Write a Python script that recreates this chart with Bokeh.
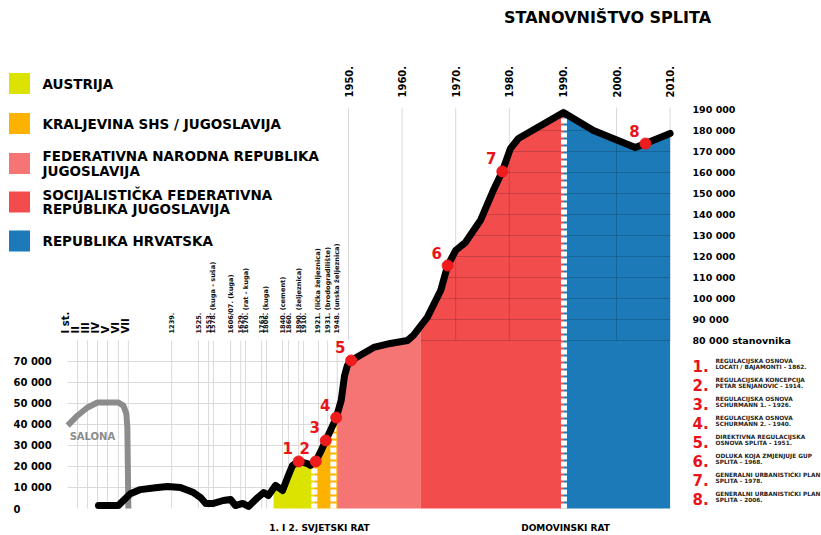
import numpy as np
from bokeh.plotting import figure
from bokeh.models import Range1d
from bokeh.core.properties import value
from bokeh.embed import file_html
from bokeh.resources import INLINE

# ---------------- data ----------------
TITLE = "STANOVNIŠTVO SPLITA"

# broken time axis (scale definition): anchor years -> axis units (years after 1950 on the right part)
AXIS_YEARS = [0, 700, 1239, 1525, 1553, 1578, 1606, 1629, 1670, 1763, 1806, 1840, 1860,
              1890, 1910, 1921, 1931, 1948, 1950, 2010]
AXIS_UNITS = [-53.7, -40.7, -33.0, -28.0, -26.1, -25.2, -22.0, -20.1, -19.2, -16.2, -15.3,
              -12.3, -11.2, -9.3, -8.4, -5.6, -3.9, -2.1, 0.0, 60.0]

# population of Split
CURVE_YEARS = [380, 580, 630, 700, 831, 1055, 1186, 1334, 1472, 1531, 1545, 1578, 1594, 1606,
               1617, 1645, 1687, 1740, 1780, 1810, 1825, 1840, 1857, 1872, 1890, 1913, 1915,
               1919, 1923, 1929, 1936, 1946.3, 1948.7, 1949.3, 1949.8, 1950.5, 1954.7, 1957.8,
               1961, 1962.1, 1964.7, 1967.2, 1968.5, 1970, 1971.8, 1974.6, 1977, 1978.7, 1980.2,
               1981.7, 1990.1, 1995.7, 2003.5, 2005.4, 2010]
CURVE_POP = [1400, 1400, 3800, 7000, 9000, 10000, 10500, 10000, 7600, 5200, 2400, 2400, 3800, 4300,
             1400, 2400, 1000, 5200, 7600, 6200, 11000, 8600, 14800, 20500, 22400, 21400, 20500,
             22400, 26700, 32400, 37100, 43300, 51400, 63300, 68100, 70500, 76700, 78600,
             80000, 82400, 91000, 103800, 115700, 122900, 126700, 137100, 151400, 160500, 171400,
             176200, 188600, 180000, 171900, 173800, 178600]

# Salona (ancient city)
SALONA_YEARS = [70, 170, 270, 370, 580, 630, 660, 670, 680]
SALONA_POP = [39500, 44300, 48100, 50500, 50500, 49000, 45200, 38600, 0]

# urban plans (numbered markers)
MARK_LABELS = ["1", "2", "3", "4", "5", "6", "7", "8"]
MARK_YEARS = [1890, 1919, 1929, 1946.3, 1950.5, 1968.5, 1978.7, 2005.4]
MARK_POP = [22400, 22400, 32400, 43300, 70500, 115700, 160500, 173800]
PLAN_LINE1 = ["REGULACIJSKA OSNOVA", "REGULACIJSKA KONCEPCIJA", "REGULACIJSKA OSNOVA",
              "REGULACIJSKA OSNOVA", "DIREKTIVNA REGULACIJSKA", "ODLUKA KOJA ZMJENJUJE GUP",
              "GENERALNI URBANISTIČKI PLAN", "GENERALNI URBANISTIČKI PLAN"]
PLAN_LINE2 = ["LOCATI / BAJAMONTI - 1862.", "PETAR SENJANOVIĆ - 1914.", "SCHURMANN 1. - 1926.",
              "SCHURMANN 2. - 1940.", "OSNOVA SPLITA  - 1951.", "SPLITA  - 1968.",
              "SPLITA  - 1978.", "SPLITA  - 2006."]

# states
ERA_NAMES = [["AUSTRIJA"], ["KRALJEVINA SHS / JUGOSLAVIJA"],
             ["FEDERATIVNA NARODNA REPUBLIKA", "JUGOSLAVIJA"],
             ["SOCIJALISTIČKA FEDERATIVNA", "REPUBLIKA JUGOSLAVIJA"], ["REPUBLIKA HRVATSKA"]]
ERA_START = [1821, 1918, 1948, 1963.5, 1990.2]
ERA_END = [1918, 1948, 1963.5, 1990.2, 2010]
ERA_COLORS = ["#dde300", "#fdb100", "#f57474", "#f34c4c", "#1b7ab7"]

# wars (white dashed bands)
WAR_YEARS = [1918, 1941.2, 1990.2]
WAR_LABELS = ["1. I 2. SVJETSKI RAT", "DOMOVINSKI RAT"]

# time-axis labels
CENTURY_LABELS = ["I st.", "II", "III", "IV", "V", "VI", "VII"]
CENTURY_YEARS = [50, 150, 250, 350, 450, 550, 650]
CENTURY_GRID = [170, 270, 370, 470, 580, 680]
HIST_LABELS = ["1239.", "1525.", "1553.", "1578. (kuga - suša)", "1606/07. (kuga)", "1629.",
               "1670. (rat - kuga)", "1763.", "1806. (kuga)", "1840. (cement)", "1860.",
               "1890. (željeznica)", "1910.", "1921. (lička željeznica)",
               "1931. (brodogradilište)", "1948. (unska željeznica)"]
HIST_YEARS = [1239, 1525, 1553, 1578, 1606, 1629, 1670, 1763, 1806, 1840, 1860, 1890, 1910,
              1921, 1931, 1948]
DECADES = [1950, 1960, 1970, 1980, 1990, 2000, 2010]

LEFT_TICKS = [0, 10000, 20000, 30000, 40000, 50000, 60000, 70000]
RIGHT_TICKS = [80000, 90000, 100000, 110000, 120000, 130000, 140000, 150000, 160000,
               170000, 180000, 190000]

# ---------------- layout helpers ----------------
W, H = 821, 535
PX_PER_UNIT = 5.36      # px per axis unit
X0_PAGE = 348           # x of axis unit 0
PX_PER_PERSON = 0.0021  # px per inhabitant
Y0_PAGE = 508           # y of 0 inhabitants


def lx(px):
    return (px - X0_PAGE) / PX_PER_UNIT


def ly(py):
    return (Y0_PAGE - py) / PX_PER_PERSON


def pos(years):
    return np.interp(years, AXIS_YEARS, AXIS_UNITS)


def fmt(v):
    return f"{v:,}".replace(",", " ")


FONT = value("DejaVu Sans")

p = figure(width=W, height=H, x_range=Range1d(lx(0), lx(W)), y_range=Range1d(ly(H), ly(0)),
           x_axis_type=None, y_axis_type=None, toolbar_location=None, output_backend="svg",
           min_border=0, outline_line_color=None, background_fill_color="white",
           border_fill_color="white")
p.grid.visible = False

cx = pos(CURVE_YEARS)
cy = np.array(CURVE_POP, dtype=float)


def curve_at(u):
    return np.interp(u, cx, cy)


LIGHT = "#dadada"
top_left = RIGHT_TICKS[0]

# light grid, left part
vx = list(pos(CENTURY_GRID)) + list(pos(HIST_YEARS))
p.segment(x0=vx, y0=[0] * len(vx), x1=vx, y1=[top_left] * len(vx), line_color=LIGHT, line_width=1)
hl = LEFT_TICKS[1:]
p.segment(x0=[lx(67)] * len(hl), y0=hl, x1=[pos(1950)] * len(hl), y1=hl, line_color=LIGHT, line_width=1)
# light grid, right part
dx = list(pos(DECADES))
p.segment(x0=dx, y0=[top_left] * len(dx), x1=dx, y1=[ly(107)] * len(dx), line_color=LIGHT, line_width=1)

# era fills
for a, b, col in zip(ERA_START, ERA_END, ERA_COLORS):
    pa, pb = pos(a), pos(b)
    inner = cx[(cx > pa) & (cx < pb)]
    xs = np.concatenate([[pa], inner, [pb]])
    p.varea(x=xs, y1=np.zeros(len(xs)), y2=curve_at(xs), fill_color=col)

# dark grid over the SFRJ / RH fills
ga, gb = pos(ERA_START[3]), pos(ERA_END[-1])
dense = np.linspace(ga, gb, 3000)
dv = curve_at(dense)
sx0, sy0, sx1 = [], [], []
for L in RIGHT_TICKS:
    m = dv > L
    i = 0
    while i < len(m):
        if m[i]:
            j = i
            while j + 1 < len(m) and m[j + 1]:
                j += 1
            sx0.append(dense[i]); sx1.append(dense[j]); sy0.append(L)
            i = j + 1
        else:
            i += 1
p.segment(x0=sx0, y0=sy0, x1=sx1, y1=sy0, line_color="black", line_alpha=0.17, line_width=1)
vd = [u for u in pos(DECADES) if ga < u < gb]
p.segment(x0=vd, y0=[top_left] * len(vd), x1=vd, y1=list(curve_at(vd)), line_color="black",
          line_alpha=0.17, line_width=1)

# war bands
wx = pos(WAR_YEARS)
wtop = curve_at(wx)
p.segment(x0=wx, y0=[0] * len(wx), x1=wx, y1=list(wtop), line_color="white", line_width=6,
          line_dash="5 2")

# Salona
p.line(pos(SALONA_YEARS), SALONA_POP, line_color="#8c8c8c", line_width=6, line_join="round")
p.text(x=[pos(SALONA_YEARS[0])], y=[SALONA_POP[0]], text=["SALONA"], x_offset=2, y_offset=11,
       text_font=FONT, text_font_style="bold", text_font_size="10px", text_color="#8c8c8c",
       text_align="left", text_baseline="middle")

# population curve
p.line(cx, cy, line_color="black", line_width=7, line_join="round", line_cap="round")

# markers
mx = pos(MARK_YEARS)
p.scatter(mx, MARK_POP, size=11, fill_color="#ee1c1c", line_color="#ee1c1c")
p.text(x=mx, y=MARK_POP, text=MARK_LABELS, x_offset=-11, y_offset=-13, text_font=FONT,
       text_font_style="bold", text_font_size="15px", text_color="#e8141c",
       text_align="center", text_baseline="middle")

# rotated time labels
p.text(x=list(pos(DECADES)), y=[ly(97)] * len(DECADES), text=[f"{d}." for d in DECADES],
       angle=np.pi / 2, text_font=FONT, text_font_style="bold", text_font_size="10px",
       text_color="black", text_align="left", text_baseline="middle")
p.text(x=list(pos(HIST_YEARS)), y=[ly(333)] * len(HIST_YEARS), text=HIST_LABELS,
       angle=np.pi / 2, text_font=FONT, text_font_style="bold", text_font_size="6.6px",
       text_color="#111111", text_align="left", text_baseline="middle")
p.text(x=list(pos(CENTURY_YEARS)), y=[ly(333)] * len(CENTURY_YEARS), text=CENTURY_LABELS,
       angle=np.pi / 2, text_font=FONT, text_font_style="bold", text_font_size="10px",
       text_color="black", text_align="left", text_baseline="middle")

# value labels
p.text(x=[lx(13)] * len(LEFT_TICKS), y=LEFT_TICKS, text=[fmt(v) for v in LEFT_TICKS],
       text_font=FONT, text_font_style="bold", text_font_size="10px", text_color="black",
       text_align="left", text_baseline="middle")
rl = [fmt(v) for v in RIGHT_TICKS]
rl[0] = rl[0] + " stanovnika"
p.text(x=[lx(692)] * len(RIGHT_TICKS), y=RIGHT_TICKS, text=rl,
       text_font=FONT, text_font_style="bold", text_font_size="9.5px", text_color="black",
       text_align="left", text_baseline="middle")

# title
p.text(x=[lx(607)], y=[ly(17)], text=[TITLE], text_font=FONT, text_font_style="bold",
       text_font_size="16px", text_color="black", text_align="center", text_baseline="middle")

# state legend
sq_y = [83, 123, 163, 201.5, 240.5]
p.scatter([lx(19)] * 5, [ly(v) for v in sq_y], marker="square", size=21, fill_color=ERA_COLORS,
          line_color=None)
tx, ty, tt = [], [], []
for names, yc in zip(ERA_NAMES, sq_y):
    if len(names) == 1:
        tx.append(lx(42)); ty.append(ly(yc)); tt.append(names[0])
    else:
        tx += [lx(42), lx(42)]; ty += [ly(yc - 7.5), ly(yc + 7)]; tt += names
p.text(x=tx, y=ty, text=tt, text_font=FONT, text_font_style="bold", text_font_size="13.5px",
       text_color="black", text_align="left", text_baseline="middle")

# plan legend
ny = [365 + 19 * i for i in range(8)]
p.text(x=[lx(692)] * 8, y=[ly(v) for v in ny], text=[f"{m}." for m in MARK_LABELS],
       text_font=FONT, text_font_style="bold", text_font_size="15px", text_color="#e8141c",
       text_align="left", text_baseline="middle")
p.text(x=[lx(715)] * 8, y=[ly(v - 4.5) for v in ny], text=PLAN_LINE1, text_font=FONT,
       text_font_style="bold", text_font_size="5.8px", text_color="#222222",
       text_align="left", text_baseline="middle")
p.text(x=[lx(715)] * 8, y=[ly(v + 1.8) for v in ny], text=PLAN_LINE2, text_font=FONT,
       text_font_style="bold", text_font_size="5.8px", text_color="#222222",
       text_align="left", text_baseline="middle")

# war labels
p.text(x=[lx(319), lx(565)], y=[ly(527), ly(527)], text=WAR_LABELS, text_font=FONT,
       text_font_style="bold", text_font_size="9px", text_color="black",
       text_align="center", text_baseline="middle")

open("out.html", "w").write(file_html(p, INLINE))
